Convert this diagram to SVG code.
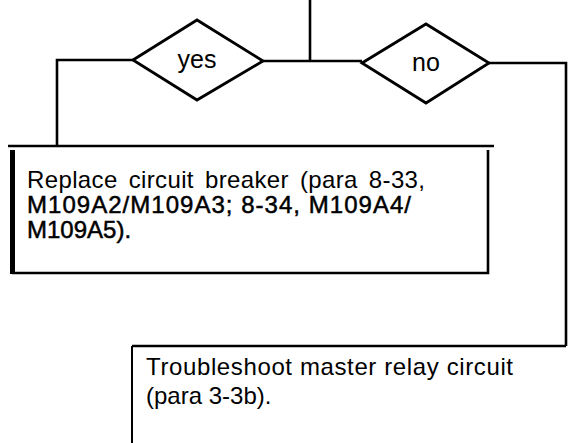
<svg xmlns="http://www.w3.org/2000/svg" width="570" height="443" viewBox="0 0 570 443">
<style>
.ln{stroke:#000;stroke-width:2.6;fill:none}
.dm{stroke:#000;stroke-width:2.8;fill:#fff;stroke-linejoin:miter}
.t{font-family:"Liberation Sans",Arial,sans-serif;fill:#000}
.lbl{font-size:25px;text-anchor:middle}
.bx{font-size:24px}
.bd{stroke:#000;stroke-width:0.5}
</style>
<rect width="570" height="443" fill="#fff"/>
<g id="connectors">
<path class="ln" d="M310,0 V61"/>
<path class="ln" d="M263,61 H362"/>
<path class="ln" d="M133,60 H57 V146"/>
<path class="ln" d="M489,63 H566 V346"/>
</g>
<g id="yes">
<polygon class="dm" points="133,60 197,20 263,61 197,100"/>
<text class="t lbl" x="197" y="68">yes</text>
</g>
<g id="no">
<polygon class="dm" points="362,63 426,24 489,63 426,103"/>
<text class="t lbl" x="426" y="71">no</text>
</g>
<g id="replace">
<path class="ln" d="M8,146 H494"/>
<path stroke="#000" stroke-width="5" d="M12.5,150 V274"/>
<path class="ln" d="M488,150 V273 H12"/>
<text class="t bx" x="27" y="188" textLength="398" lengthAdjust="spacing" word-spacing="4">Replace circuit breaker (para 8-33,</text>
<text class="t bx bd" x="27" y="213" textLength="384" lengthAdjust="spacing">M109A2/M109A3; 8-34, M109A4/</text>
<text class="t bx bd" x="27" y="238">M109A5).</text>
</g>
<g id="troubleshoot">
<path class="ln" d="M132,346 H566"/>
<path stroke="#000" stroke-width="2" d="M132,346 V443"/>
<text class="t bx" x="146" y="375" textLength="367" lengthAdjust="spacing">Troubleshoot master relay circuit</text>
<text class="t bx" x="146" y="404">(para 3-3b).</text>
</g>
</svg>
